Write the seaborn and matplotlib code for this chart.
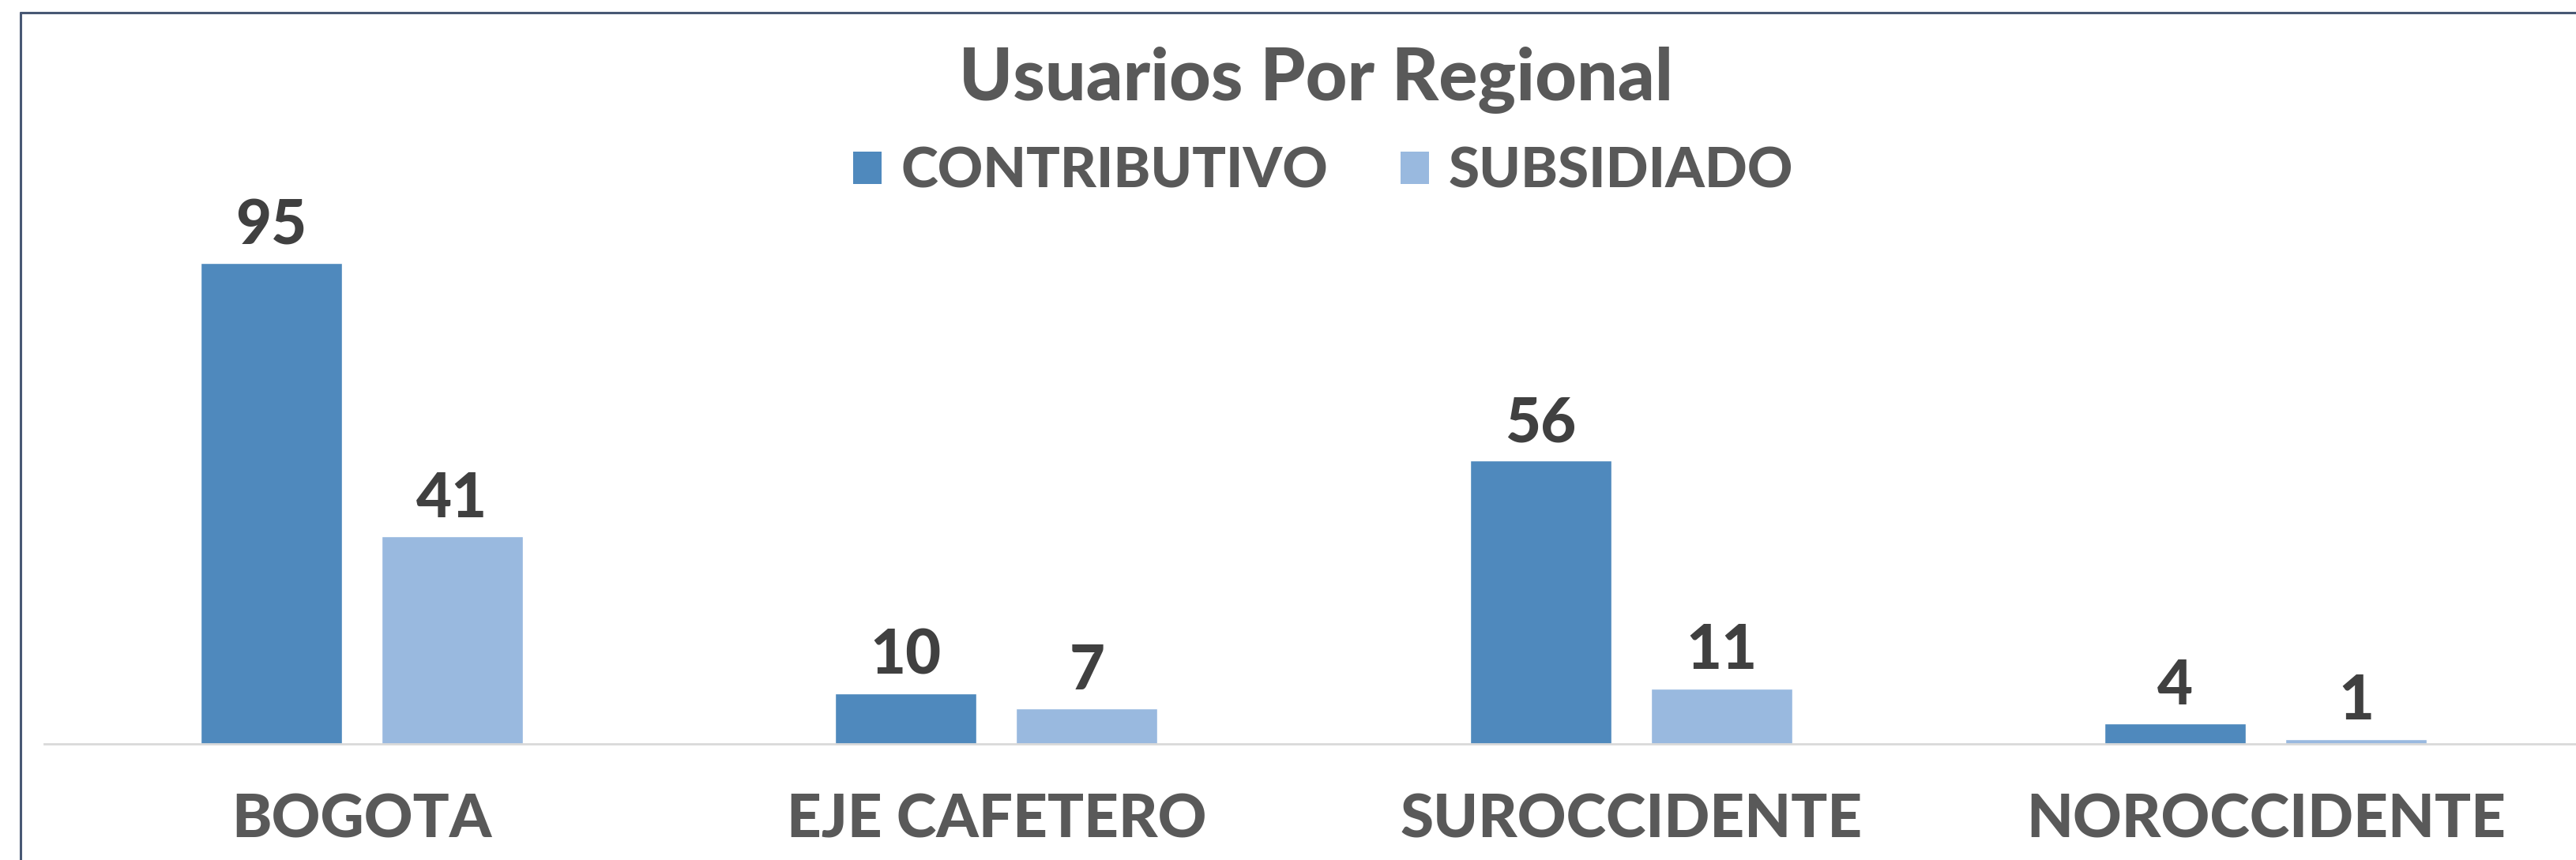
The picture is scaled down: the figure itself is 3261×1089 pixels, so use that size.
import matplotlib.pyplot as plt
import seaborn as sns
import pandas as pd
from matplotlib.lines import Line2D
from matplotlib.patches import Patch

# Data
regiones = ["BOGOTA", "EJE CAFETERO", "SUROCCIDENTE", "NOROCCIDENTE"]
contributivo = [95, 10, 56, 4]
subsidiado = [41, 7, 11, 1]
regimenes = ["CONTRIBUTIVO", "SUBSIDIADO"]
colores = ["#4F89BD", "#99B9DF"]

df = pd.DataFrame({
    "Regional": regiones * 2,
    "Regimen": [regimenes[0]] * len(regiones) + [regimenes[1]] * len(regiones),
    "Usuarios": contributivo + subsidiado,
})

sns.set_theme(style="white")
plt.rcParams['font.family'] = ['Lato', 'DejaVu Sans']
peso = "black"

W, H = 3262, 1089
fig = plt.figure(figsize=(W / 100, H / 100), dpi=100)
ax = fig.add_axes([56 / W, (H - 942) / H, 1 - 56 / W, (942 - 16) / H])

sns.barplot(data=df, x="Regional", y="Usuarios", hue="Regimen",
            palette=colores, width=0.57, gap=0.218, saturation=1,
            legend=False, ax=ax)

ax.set_xlim(-0.5, 3.49)
ax.set_ylim(0, 144.5)
ax.set_xlabel("")
ax.set_ylabel("")
ax.set_yticks([])
for s in ["top", "left", "right"]:
    ax.spines[s].set_visible(False)
ax.spines["bottom"].set_color("#D9D9D9")
ax.spines["bottom"].set_linewidth(2)
ax.tick_params(axis="x", length=0, pad=44, labelsize=55, labelcolor="#595959")
for lbl in ax.get_xticklabels():
    lbl.set_fontweight(peso)

for cont in ax.containers:
    ax.bar_label(cont, padding=8, fontsize=56, fontweight=peso, color="#404040")

# title
fig.text(1666 / W, 1 - 127 / H, "Usuarios Por Regional", ha="center", va="baseline",
         fontsize=66, fontweight=peso, color="#595959")

# legend
handles = [Patch(facecolor=c, edgecolor="none") for c in colores]
fig.legend(handles, regimenes, loc="center", bbox_to_anchor=(1675 / W, 1 - 217 / H),
           ncol=2, frameon=False, handlelength=0.5, handleheight=0.5,
           handletextpad=0.35, columnspacing=1.3,
           prop={"size": 51, "weight": peso}, labelcolor="#595959")

# chart border (cropped on right and bottom)
fig.add_artist(Line2D([26 / W, 1], [1 - 16 / H, 1 - 16 / H], color="#485874", lw=2.2))
fig.add_artist(Line2D([26 / W, 26 / W], [0, 1 - 16 / H], color="#485874", lw=2.2))

fig.savefig("out.png", dpi=100)
